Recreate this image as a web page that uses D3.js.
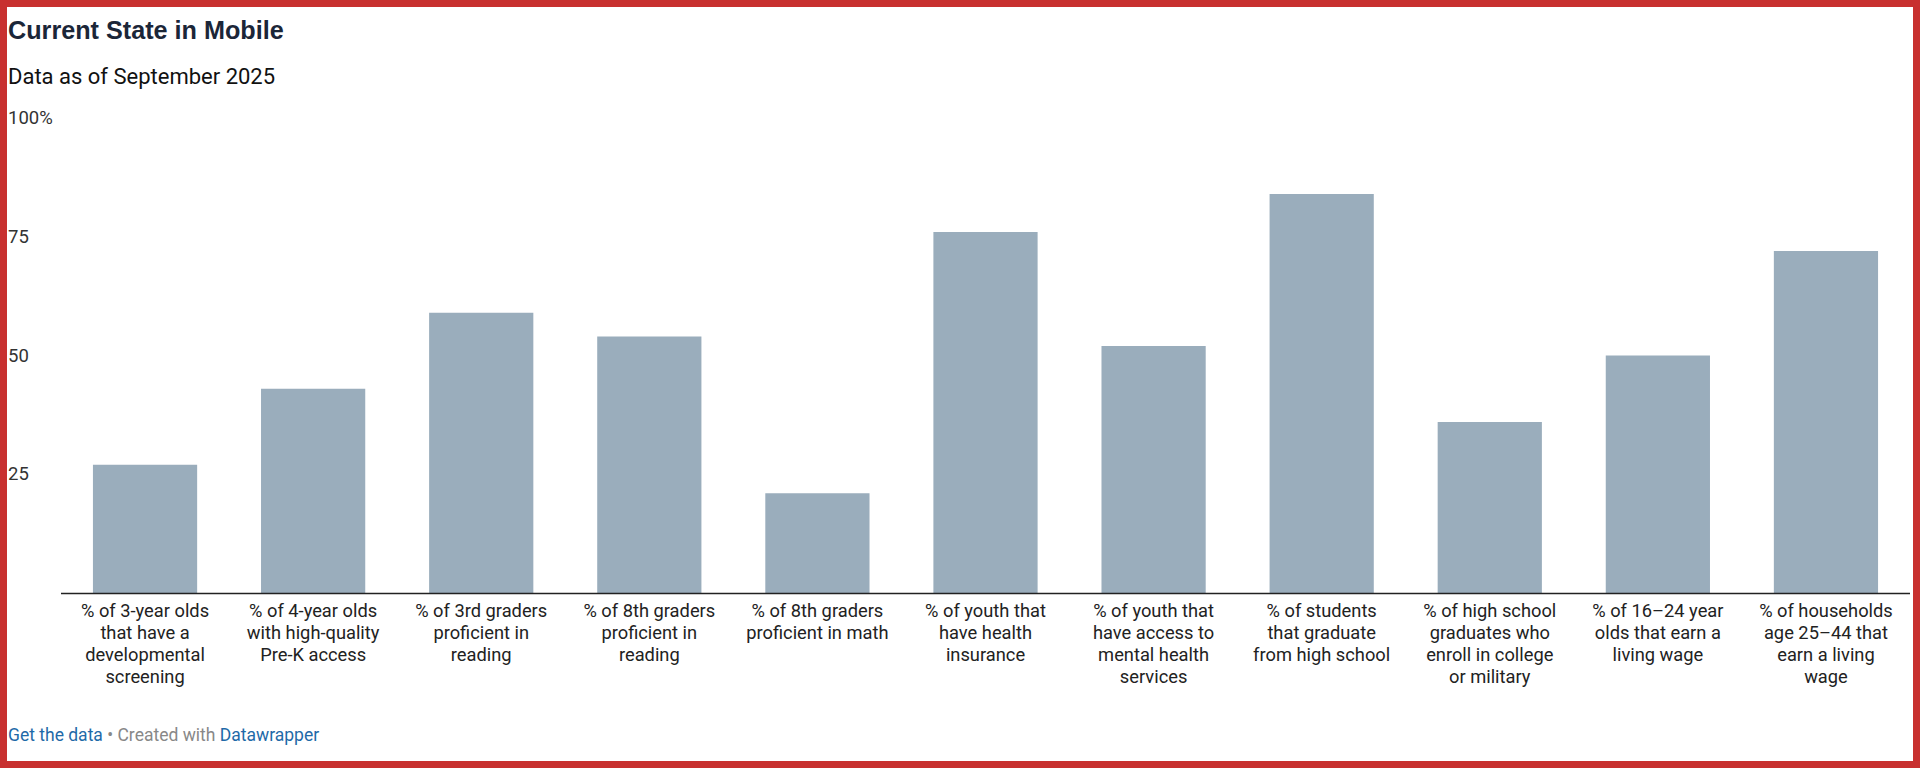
<!DOCTYPE html>
<html>
<head>
<meta charset="utf-8">
<script src="https://cdn.jsdelivr.net/npm/d3@7"></script>
<style>
  body { margin: 0; background: #fff; }
  svg { display: block; font-family: Roboto, "Noto Sans", sans-serif; }
</style>
</head>
<body>
<svg width="1920" height="768"></svg>
<script>
// chart data
const categories = [
  "% of 3-year olds|that have a|developmental|screening",
  "% of 4-year olds|with high-quality|Pre-K access",
  "% of 3rd graders|proficient in|reading",
  "% of 8th graders|proficient in|reading",
  "% of 8th graders|proficient in math",
  "% of youth that|have health|insurance",
  "% of youth that|have access to|mental health|services",
  "% of students|that graduate|from high school",
  "% of high school|graduates who|enroll in college|or military",
  "% of 16\u201324 year|olds that earn a|living wage",
  "% of households|age 25\u201344 that|earn a living|wage"
];
const values = [27, 43, 59, 54, 21, 76, 52, 84, 36, 50, 72];
const yTicks = [25, 50, 75, 100];

const svg = d3.select('svg');

// red frame
svg.append('rect')
    .attr('x', 3.5).attr('y', 3.5)
    .attr('width', 1913).attr('height', 761)
    .attr('fill', 'none')
    .attr('stroke', '#c8302f')
    .attr('stroke-width', 7);

// header
svg.append('text')
    .attr('x', 8).attr('y', 39)
    .attr('font-size', 25.2).attr('font-weight', 700)
    .attr('font-family', '"Liberation Sans", Arial, sans-serif')
    .attr('fill', '#1b2638')
    .text('Current State in Mobile');
svg.append('text')
    .attr('x', 8).attr('y', 84)
    .attr('font-size', 22)
    .attr('fill', '#111')
    .text('Data as of September 2025');

const x = d3.scaleBand()
    .domain(d3.range(categories.length))
    .range([61, 1910])
    .paddingInner(0.38)
    .paddingOuter(0.19);

const y = d3.scaleLinear().domain([0, 100]).range([593, 118]);

// y tick labels
svg.selectAll('.ytick')
    .data(yTicks)
    .enter().append('text')
    .attr('x', 8)
    .attr('y', d => y(d) + 6)
    .attr('font-size', 18.5)
    .attr('fill', '#333')
    .text(d => d === 100 ? '100%' : d);

// bars
svg.selectAll('.bar')
    .data(values)
    .enter().append('rect')
    .attr('x', (d, i) => x(i))
    .attr('y', d => y(d))
    .attr('width', x.bandwidth())
    .attr('height', d => y(0) - y(d))
    .attr('fill', '#9aadbc');

// baseline
svg.append('line')
    .attr('x1', 61).attr('x2', 1910)
    .attr('y1', y(0) + 0.5).attr('y2', y(0) + 0.5)
    .attr('stroke', '#222').attr('stroke-width', 1.5);

// category labels
const labels = svg.selectAll('.xlabel')
    .data(categories)
    .enter().append('text')
    .attr('text-anchor', 'middle')
    .attr('font-size', 18.3)
    .attr('fill', '#222');
labels.each(function(d, i) {
    const t = d3.select(this);
    d.split('|').forEach((line, j) => {
        t.append('tspan')
            .attr('x', x(i) + x.bandwidth() / 2)
            .attr('y', 617 + j * 22)
            .text(line);
    });
});

// footer
const foot = svg.append('text')
    .attr('x', 8).attr('y', 741)
    .attr('font-size', 17.5);
foot.append('tspan').attr('fill', '#1f6aa8').text('Get the data');
foot.append('tspan').attr('fill', '#888').text(' \u2022 Created with ');
foot.append('tspan').attr('fill', '#1f6aa8').text('Datawrapper');
</script>
</body>
</html>
